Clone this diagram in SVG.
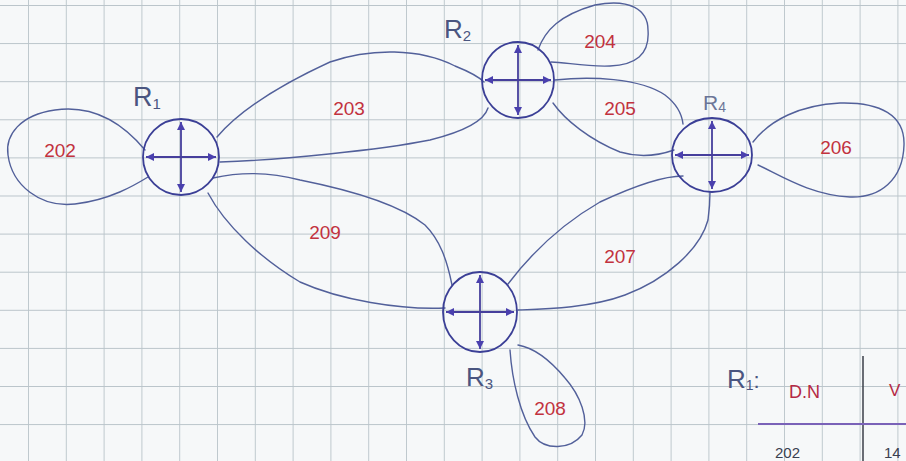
<svg xmlns="http://www.w3.org/2000/svg" width="906" height="461" viewBox="0 0 906 461">
<defs>
<pattern id="grid" patternUnits="userSpaceOnUse" x="28" y="5" width="37.8" height="38.1">
<rect width="37.8" height="38.1" fill="#f6f8f9"/>
<path d="M0,0 V38.1 M0,0 H37.8" stroke="#bac4ca" stroke-width="1.8" fill="none"/>
</pattern>
<marker id="arr" viewBox="0 0 8 8" refX="8" refY="4" markerWidth="8" markerHeight="8" markerUnits="userSpaceOnUse" orient="auto-start-reverse">
<path d="M0,0 L8,4 L0,8 z" fill="#4a40ae"/>
</marker>
<style>
.loop{fill:none;stroke:#52609a;stroke-width:1.4;stroke-linecap:round;stroke-linejoin:round}
.rc{fill:none;stroke:#3b3f96;stroke-width:1.8}
.cross{stroke:#463f9c;stroke-width:1.8;marker-start:url(#arr);marker-end:url(#arr)}
.net{font-family:"Liberation Sans",Arial,sans-serif;font-size:19px;fill:#c2323e;text-anchor:middle}
.rl{font-family:"Liberation Sans",Arial,sans-serif;fill:#4a5580}
.tb{font-family:"Liberation Sans",Arial,sans-serif}
</style>
</defs>
<rect width="906" height="461" fill="url(#grid)"/>

<g id="connectors">
<g id="net-202">
<path class="loop" d="M145,150 C120,120 90,105 55,110 C20,115 5,135 8,155 C12,185 40,208 75,204 C110,200 135,185 148,177"/>
<text class="net" x="60" y="157">202</text>
</g>
<g id="net-203">
<path class="loop" d="M217,137 C240,110 280,85 330,62 C370,48 420,48 455,66 C470,72 480,78 484,82"/>
<path class="loop" d="M220,162 C280,160 380,150 430,140 C470,130 485,118 488,108"/>
<text class="net" x="349" y="115">203</text>
</g>
<g id="net-204">
<path class="loop" d="M538,50 C545,30 560,15 595,5 C630,-2 648,10 648,30 C650,55 635,65 610,66 C585,67 565,62 551,62"/>
<text class="net" x="600" y="48">204</text>
</g>
<g id="net-205">
<path class="loop" d="M555,80 C590,76 640,78 665,95 C678,105 682,115 683,124"/>
<path class="loop" d="M553,103 C565,120 590,140 620,152 C640,158 660,155 674,150"/>
<text class="net" x="620" y="115">205</text>
</g>
<g id="net-206">
<path class="loop" d="M753,142 C770,120 800,105 840,103 C880,102 905,115 904,145 C903,180 880,198 850,197 C810,195 780,175 758,165"/>
<text class="net" x="836" y="154">206</text>
</g>
<g id="net-207">
<path class="loop" d="M508,284 C530,255 560,225 600,202 C630,188 660,176 683,176"/>
<path class="loop" d="M518,310 C545,309 590,308 625,295 C665,280 700,250 708,220 C710,205 710,198 710,192"/>
<text class="net" x="620" y="263">207</text>
</g>
<g id="net-208">
<path class="loop" d="M510,350 C512,380 520,415 535,437 C545,450 570,450 582,435 C590,420 580,395 565,378 C550,360 535,348 518,345"/>
<text class="net" x="550" y="415">208</text>
</g>
<g id="net-209">
<path class="loop" d="M213,178 C240,172 270,172 300,180 C350,190 400,205 425,225 C440,240 447,260 452,285"/>
<path class="loop" d="M208,193 C225,225 260,258 300,282 C340,300 400,310 445,308"/>
<text class="net" x="325" y="239">209</text>
</g>
</g>

<g id="R1">
<ellipse class="rc" cx="181" cy="157" rx="38" ry="38"/>
<line class="cross" x1="146" y1="157" x2="216" y2="157"/>
<line class="cross" x1="181" y1="122" x2="181" y2="192"/>
<text class="rl" x="133" y="106" font-size="27">R<tspan font-size="15" dy="3">1</tspan></text>
</g>
<g id="R2">
<ellipse class="rc" cx="518" cy="80" rx="36" ry="38"/>
<line class="cross" x1="485" y1="80" x2="551" y2="80"/>
<line class="cross" x1="518" y1="45" x2="518" y2="115"/>
<text class="rl" x="444" y="38" font-size="26">R<tspan font-size="15" dy="3">2</tspan></text>
</g>
<g id="R4">
<ellipse class="rc" cx="712" cy="155" rx="40" ry="37"/>
<line class="cross" x1="675" y1="155" x2="749" y2="155"/>
<line class="cross" x1="712" y1="121" x2="712" y2="189"/>
<text class="rl" x="703" y="110" font-size="21" opacity="0.8">R<tspan font-size="14" dy="2">4</tspan></text>
</g>
<g id="R3">
<ellipse class="rc" cx="480" cy="312" rx="37" ry="40"/>
<line class="cross" x1="446" y1="312" x2="514" y2="312"/>
<line class="cross" x1="480" y1="275" x2="480" y2="349"/>
<text class="rl" x="466" y="386" font-size="26">R<tspan font-size="15" dy="3">3</tspan></text>
</g>

<g id="table">
<text class="rl" x="727" y="388" font-size="26">R<tspan font-size="14" dy="2">1</tspan><tspan dy="-2" font-size="22">:</tspan></text>
<text class="tb" x="789" y="398" font-size="18" fill="#b52a45">D.N</text>
<text class="tb" x="889" y="396" font-size="17" fill="#b52a45">V</text>
<line x1="863" y1="356" x2="863" y2="461" stroke="#3a3f48" stroke-width="1.5"/>
<line x1="758" y1="424" x2="906" y2="424" stroke="#7a62b8" stroke-width="2"/>
<text class="tb" x="775" y="458" font-size="15" fill="#3a4050">202</text>
<text class="tb" x="884" y="458" font-size="15" fill="#3a4050">14</text>
</g>
</svg>
